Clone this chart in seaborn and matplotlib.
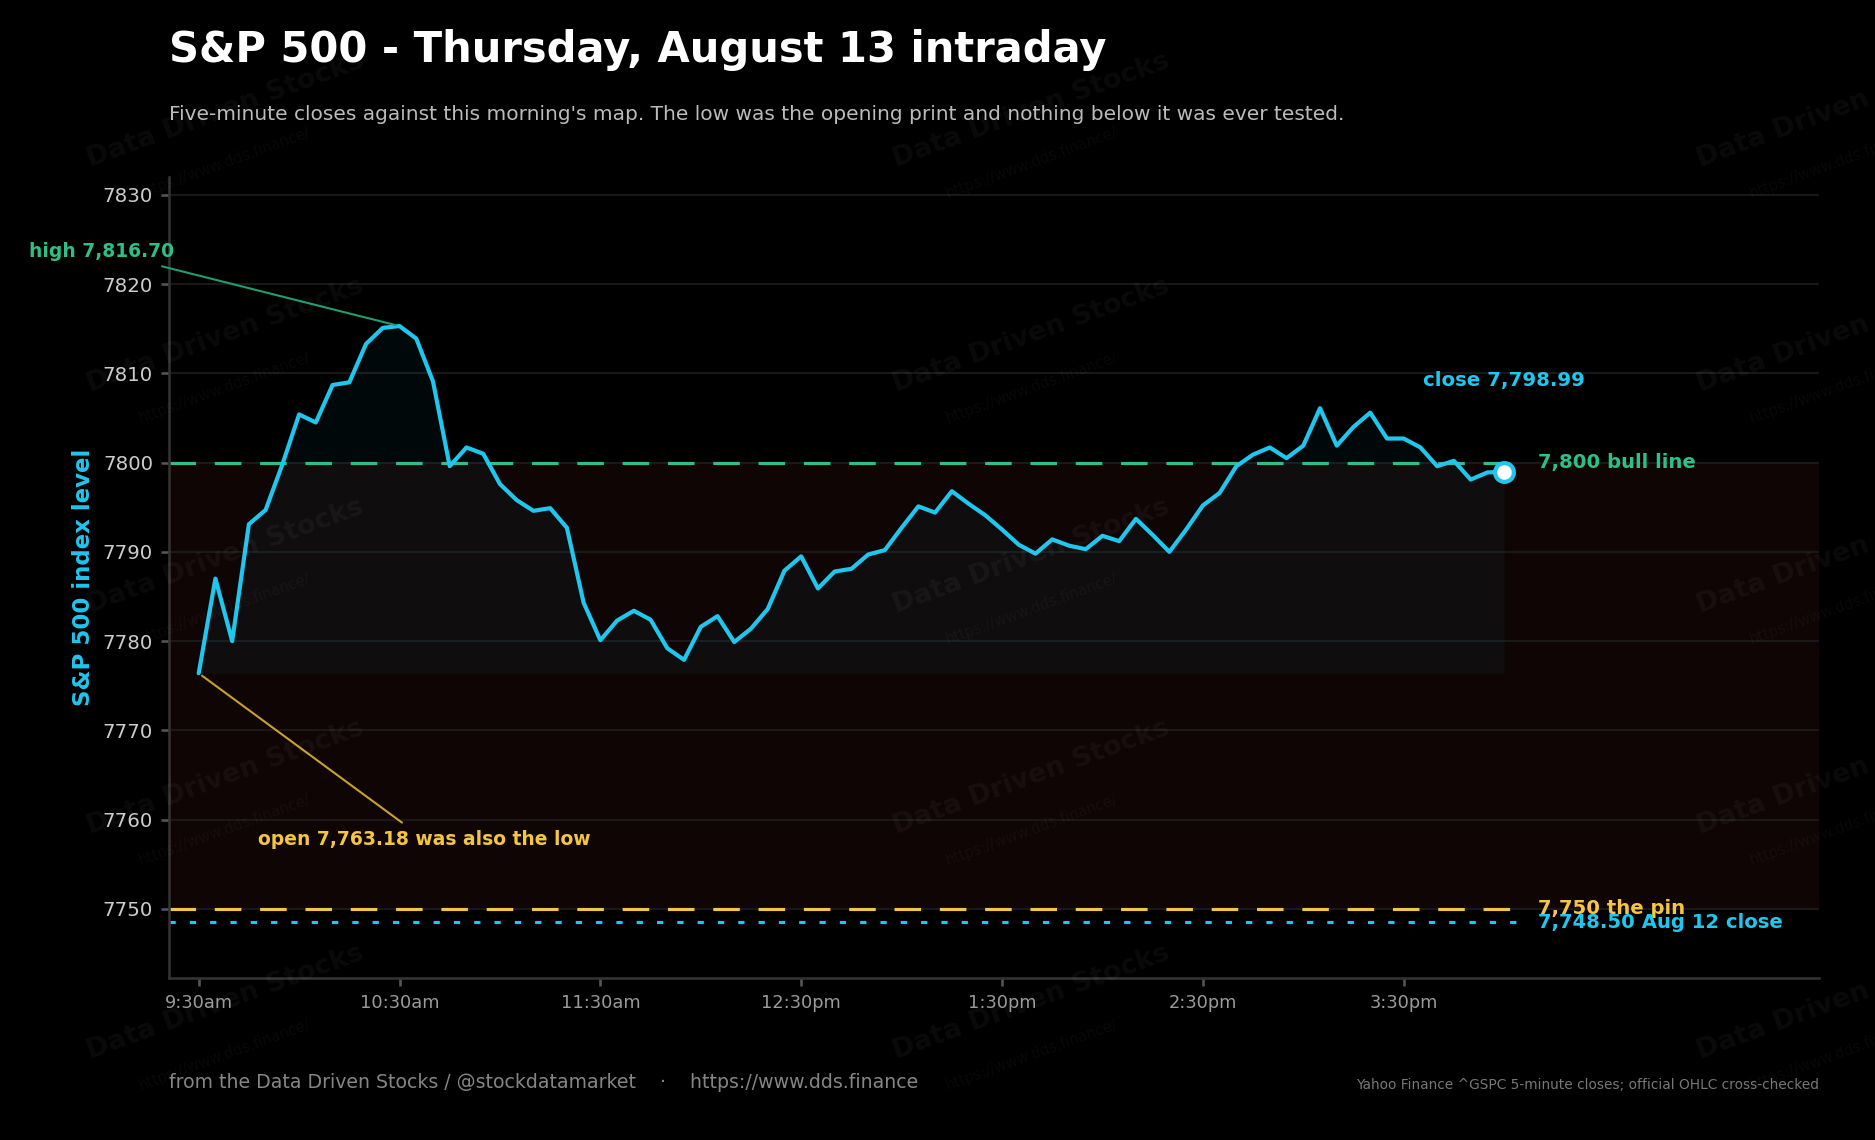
import numpy as np
import pandas as pd
import seaborn as sns
import matplotlib.pyplot as plt

# five-minute closes, 9:30am -> 4:00pm
minutes = list(range(0, 395, 5))
closes = [
    7776.4, 7787.0, 7780.0, 7793.1, 7794.7, 7799.8, 7805.4, 7804.5, 7808.7, 7809.0,
    7813.3, 7815.1, 7815.3, 7813.9, 7809.1, 7799.6, 7801.7, 7801.0, 7797.6, 7795.8,
    7794.6, 7794.9, 7792.7, 7784.3, 7780.1, 7782.3, 7783.4, 7782.4, 7779.2, 7777.9,
    7781.6, 7782.8, 7779.9, 7781.4, 7783.6, 7787.9, 7789.5, 7785.9, 7787.8, 7788.1,
    7789.7, 7790.2, 7792.7, 7795.1, 7794.4, 7796.8, 7795.4, 7794.1, 7792.5, 7790.8,
    7789.8, 7791.4, 7790.7, 7790.3, 7791.8, 7791.2, 7793.7, 7791.9, 7790.0, 7792.5,
    7795.2, 7796.6, 7799.6, 7800.9, 7801.7, 7800.5, 7801.9, 7806.1, 7801.9, 7804.0,
    7805.6, 7802.7, 7802.7, 7801.7, 7799.6, 7800.2, 7798.1, 7798.9, 7798.99,
]
tick_minutes = [0, 60, 120, 180, 240, 300, 360]
tick_labels = ["9:30am", "10:30am", "11:30am", "12:30pm", "1:30pm", "2:30pm", "3:30pm"]
bull_line = 7800
pin_line = 7750
prev_close = 7748.50
high_label = "high 7,816.70"
open_label = "open 7,763.18 was also the low"

CYAN = "#1fc6ee"
GREEN = "#2ebf86"
YELLOW = "#f4c542"

sns.set_theme(style="ticks", rc={
    "figure.facecolor": "black",
    "axes.facecolor": "black",
    "savefig.facecolor": "black",
    "axes.edgecolor": "#333333",
    "xtick.color": "#555555",
    "ytick.color": "#555555",
})
plt.rcParams["font.family"] = ["DejaVu Sans"]

df = pd.DataFrame({"minute": minutes, "close": closes})

fig = plt.figure(figsize=(12.5, 7.6), dpi=150)
ax = fig.add_axes([0.0899, 0.1417, 0.8801, 0.703])

ax.axhspan(pin_line, bull_line, color="#0f0504", zorder=0)
ax.grid(axis="y", color="#1d1d1d", lw=0.8, zorder=0.5)
ax.set_axisbelow(True)

ax.fill_between(df["minute"], df["close"], df["close"].min(), color=CYAN, alpha=0.045, lw=0, zorder=1)

ax.hlines(bull_line, -9, 395, color=GREEN, lw=1.5, linestyles=(0, (8.5, 6)), zorder=2)
ax.hlines(pin_line, -9, 397, color=YELLOW, lw=1.5, linestyles=(0, (8.5, 6)), zorder=2)
ax.hlines(prev_close, -9, 397, color=CYAN, lw=1.5, linestyles=(0, (2, 4.5)), zorder=2)

sns.lineplot(data=df, x="minute", y="close", color=CYAN, lw=2, ax=ax, zorder=3)
last = df.iloc[-1]
ax.plot(last["minute"], last["close"], "o", ms=9, mfc="white", mec=CYAN, mew=2, zorder=4)

ax.set_xlim(-9, 484)
ax.set_ylim(7742.2, 7832.0)
ax.set_xticks(tick_minutes)
ax.set_xticklabels(tick_labels)
ax.set_yticks(range(7750, 7831, 10))
ax.tick_params(axis="x", labelcolor="#9a9a9a", labelsize=8.5, length=4)
ax.tick_params(axis="y", labelcolor="#cccccc", labelsize=9.5, length=4)
ax.set_xlabel("")
ax.set_ylabel("S&P 500 index level", color=CYAN, fontsize=11, fontweight="bold", labelpad=3.5)
sns.despine(ax=ax)

# annotations
imax = df["close"].idxmax()
ax.annotate(high_label, xy=(df["minute"][imax], df["close"][imax]), xytext=(-29, 7823.7),
            ha="center", va="center", color=GREEN, fontsize=9, fontweight="bold",
            arrowprops=dict(arrowstyle="-", color="#1f9e6e", lw=1), annotation_clip=False)
ax.annotate(open_label, xy=(df["minute"][0], df["close"][0]), xytext=(67.5, 7757.8),
            ha="center", va="center", color=YELLOW, fontsize=9, fontweight="bold",
            arrowprops=dict(arrowstyle="-", color="#c9a030", lw=1))
ax.text(last["minute"], 7809.2, "close 7,798.99", ha="center", va="center",
        color=CYAN, fontsize=9.5, fontweight="bold")
ax.text(400, bull_line, "7,800 bull line", ha="left", va="center", color=GREEN,
        fontsize=9.4, fontweight="bold", clip_on=False)
ax.text(400, pin_line, "7,750 the pin", ha="left", va="center", color=YELLOW,
        fontsize=9.4, fontweight="bold", clip_on=False)
ax.text(400, prev_close, "7,748.50 Aug 12 close", ha="left", va="center", color=CYAN,
        fontsize=9.4, fontweight="bold", clip_on=False)

# titles and footer
fig.text(0.0899, 0.956, "S&P 500 - Thursday, August 13 intraday", color="white",
         fontsize=20, fontweight="bold", va="center")
fig.text(0.0899, 0.900, "Five-minute closes against this morning's map. The low was the opening "
         "print and nothing below it was ever tested.", color="#bbbbbb", fontsize=9.7, va="center")
fig.text(0.0899, 0.050, "from the Data Driven Stocks / @stockdatamarket    \u00b7    https://www.dds.finance",
         color="#858585", fontsize=9.05, va="center")
fig.text(0.970, 0.048, "Yahoo Finance ^GSPC 5-minute closes; official OHLC cross-checked",
         color="#777777", fontsize=6.6, ha="right", va="center")

# watermark tiles
for wy in [0.903, 0.706, 0.512, 0.318, 0.121]:
    for wx in [0.12, 0.55, 0.979]:
        fig.text(wx, wy, "Data Driven Stocks", color="white", alpha=0.045, fontsize=13,
                 fontweight="bold", rotation=20, ha="center", va="center", rotation_mode="anchor")
        fig.text(wx, wy - 0.046, "https://www.dds.finance/", color="white", alpha=0.04,
                 fontsize=7, rotation=20, ha="center", va="center", rotation_mode="anchor")

fig.savefig("out.png", dpi=150)
